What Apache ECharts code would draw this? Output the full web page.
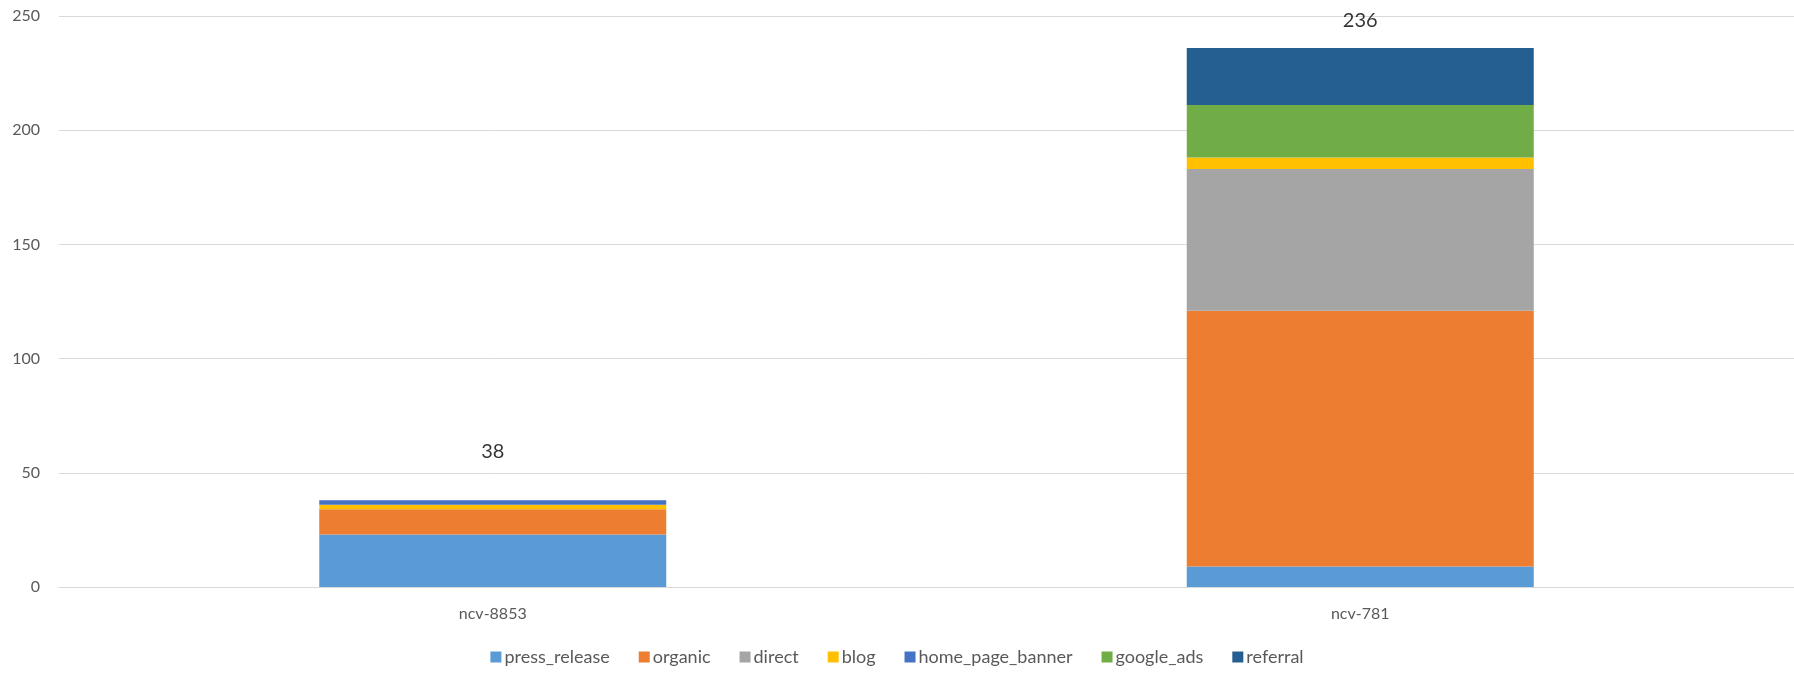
<!DOCTYPE html>
<html>
<head>
<meta charset="utf-8">
<script src="https://cdn.jsdelivr.net/npm/echarts@6/dist/echarts.min.js"></script>
<style>html,body{margin:0;padding:0;background:#fff}#c{width:1794px;height:673px}</style>
</head>
<body>
<div id="c"></div>
<script>
var categories = ['ncv-8853', 'ncv-781'];
var seriesNames = ['press_release', 'organic', 'direct', 'blog', 'home_page_banner', 'google_ads', 'referral'];
var press_release = [23, 9];
var organic = [11, 112];
var direct = [0, 62];
var blog = [2, 5];
var home_page_banner = [2, 0];
var google_ads = [0, 23];
var referral = [0, 25];
var yTicks = [0, 50, 100, 150, 200, 250];

var colors = ['#5b9bd5', '#ed7d31', '#a5a5a5', '#ffc000', '#4472c4', '#70ad47', '#255e91'];
var values = [press_release, organic, direct, blog, home_page_banner, google_ads, referral];
var totals = categories.map(function (c, i) {
  return values.reduce(function (s, arr) { return s + arr[i]; }, 0);
});
var labelDist = [39, 17];
var font = 'Lato, "Noto Sans", sans-serif';

var series = seriesNames.map(function (n, k) {
  return {
    name: n, type: 'bar', stack: 'total', barWidth: '40%',
    itemStyle: { color: colors[k] },
    data: values[k]
  };
});
series.push({
  name: 'total', type: 'scatter', symbolSize: 0, silent: true,
  data: totals.map(function (t, i) {
    return { value: t, label: { show: true, position: 'top', distance: labelDist[i], formatter: String(t), color: '#000', fontSize: 20, fontFamily: font } };
  }),
  tooltip: { show: false }
});

var chart = echarts.init(document.getElementById('c'), null, { renderer: 'canvas' });
chart.setOption({
  animation: false,
  backgroundColor: '#fff',
  grid: { left: 59, right: 0, top: 16, bottom: 86, containLabel: false },
  legend: {
    data: seriesNames, bottom: 2, left: 'center',
    itemWidth: 11, itemHeight: 11, itemGap: 29, icon: 'rect',
    textStyle: { color: '#595959', fontSize: 18, fontFamily: font, padding: [0, 0, 0, -2] }
  },
  xAxis: {
    type: 'category', data: categories,
    axisLine: { lineStyle: { color: '#d9d9d9', width: 1 } },
    axisTick: { show: false },
    axisLabel: { color: '#595959', fontSize: 16, fontFamily: font, margin: 19 }
  },
  yAxis: {
    type: 'value', min: yTicks[0], max: yTicks[yTicks.length - 1], interval: 50,
    axisLine: { show: false }, axisTick: { show: false },
    splitLine: { lineStyle: { color: '#d9d9d9', width: 1 } },
    axisLabel: { color: '#595959', fontSize: 16, fontFamily: font, margin: 19 }
  },
  series: series
});
</script>
</body>
</html>
